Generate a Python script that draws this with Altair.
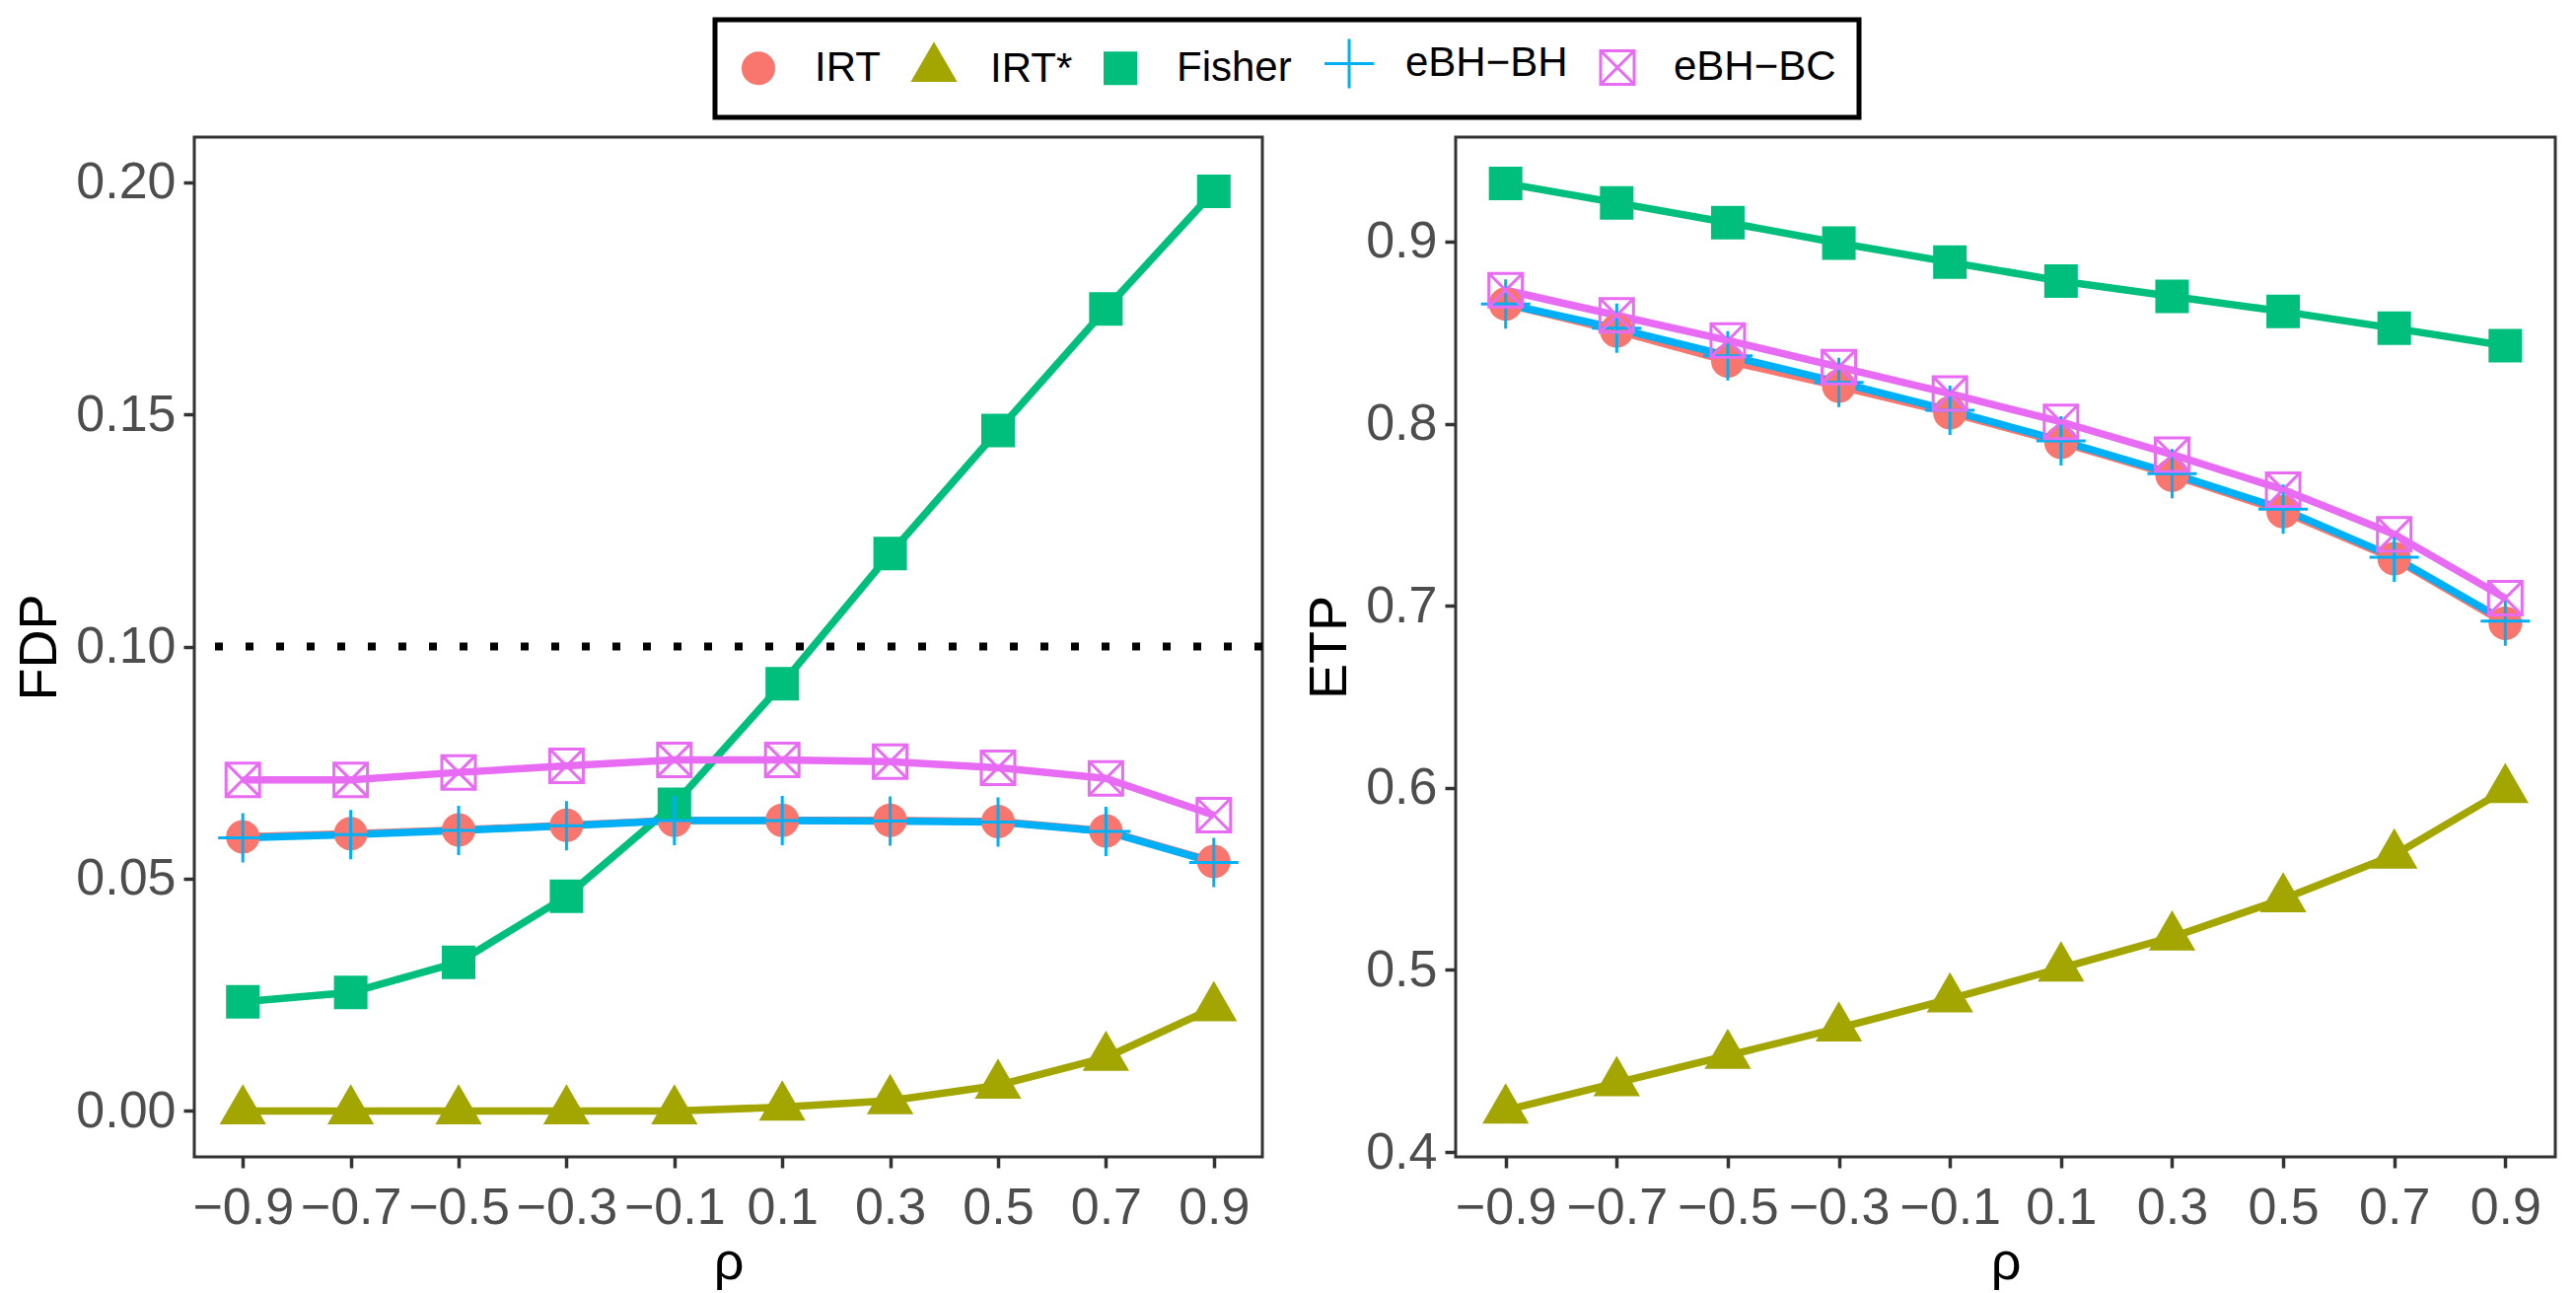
import altair as alt
import pandas as pd

rho = [-0.9, -0.7, -0.5, -0.3, -0.1, 0.1, 0.3, 0.5, 0.7, 0.9]
series = ["IRT", "IRT*", "Fisher", "eBH-BH", "eBH-BC"]
colors = ["#F8766D", "#A3A500", "#00BF7D", "#00B0F6", "#E76BF3"]

# FDP panel
fdp_irt = [0.0590, 0.0597, 0.0605, 0.0615, 0.0626, 0.0626, 0.0626, 0.0623, 0.0603, 0.0537]
fdp_irt_star = [0.0, 0.0, 0.0, 0.0, 0.0, 0.0008, 0.0022, 0.0055, 0.0115, 0.0222]
fdp_fisher = [0.0235, 0.0255, 0.0320, 0.0462, 0.0660, 0.0920, 0.1200, 0.1465, 0.1727, 0.1980]
fdp_ebh_bh = [0.0588, 0.0595, 0.0604, 0.0614, 0.0625, 0.0625, 0.0624, 0.0622, 0.0602, 0.0535]
fdp_ebh_bc = [0.0713, 0.0713, 0.0729, 0.0743, 0.0756, 0.0756, 0.0752, 0.0739, 0.0716, 0.0637]

# ETP panel
etp_irt = [0.8657, 0.8510, 0.8344, 0.8206, 0.8060, 0.7897, 0.7718, 0.7517, 0.7258, 0.6903]
etp_irt_star = [0.423, 0.438, 0.453, 0.468, 0.484, 0.501, 0.518, 0.539, 0.563, 0.599]
etp_fisher = [0.9320, 0.9213, 0.9104, 0.8992, 0.8887, 0.8783, 0.8699, 0.8616, 0.8524, 0.8428]
etp_ebh_bh = [0.8657, 0.8524, 0.8373, 0.8227, 0.8073, 0.7906, 0.7726, 0.7530, 0.7267, 0.6916]
etp_ebh_bc = [0.8733, 0.8595, 0.8457, 0.8311, 0.8165, 0.8010, 0.7830, 0.7638, 0.7392, 0.7041]

fdp_target = [0.1]
fdp_ticks = [0.0, 0.05, 0.10, 0.15, 0.20]
etp_ticks = [0.4, 0.5, 0.6, 0.7, 0.8, 0.9]


def long(values):
    rows = []
    for s, vals in zip(series, values):
        for r, v in zip(rho, vals):
            rows.append({"series": s, "line_series": s, "rho": r, "value": v,
                         "order": series.index(s)})
    return pd.DataFrame(rows)


fdp_df = long([fdp_irt, fdp_irt_star, fdp_fisher, fdp_ebh_bh, fdp_ebh_bc])
etp_df = long([etp_irt, etp_irt_star, etp_fisher, etp_ebh_bh, etp_ebh_bc])

FONT = "Liberation Sans"
shapes = [
    "circle",
    "M0,-1.565L1.355,0.782L-1.355,0.782Z",
    "square",
    "M-1.613,0L1.613,0M0,-1.613L0,1.613",
    "M-1.097,-1.097L1.097,-1.097L1.097,1.097L-1.097,1.097ZM-1.097,-1.097L1.097,1.097M1.097,-1.097L-1.097,1.097",
]
fills = [colors[0], colors[1], colors[2], "transparent", "transparent"]

color_scale = alt.Scale(domain=series, range=colors)
fill_scale = alt.Scale(domain=series, range=fills)
shape_scale = alt.Scale(domain=series, range=shapes)

legend = alt.Legend(
    orient="none", legendX=528, legendY=-119, direction="horizontal", title=None,
    labelFont=FONT, labelFontSize=42, labelColor="black", labelOffset=36,
    columnPadding=26, symbolSize=961, symbolStrokeWidth=3, labelLimit=500,
    labelExpr="replace(datum.label, '-', '\u2212')",
)

x_enc = alt.X(
    "rho:Q", title="\u03c1",
    scale=alt.Scale(domain=[-0.99, 0.99], nice=False, zero=False),
    axis=alt.Axis(values=rho, format=".1f", labelExpr="replace(datum.label, '-', '\u2212')",
                  labelOverlap=False, labelFlush=False, labelPadding=15, titlePadding=3),
)


def panel(df, title, domain, ticks, fmt, width, show_legend, target=None):
    y_enc = alt.Y(
        "value:Q", title=title,
        scale=alt.Scale(domain=domain, nice=False, zero=False),
        axis=alt.Axis(values=ticks, format=fmt, labelOverlap=False, labelPadding=8, titlePadding=9),
    )
    lines = alt.Chart(df).mark_line(strokeWidth=7.5, strokeJoin="round").encode(
        x=x_enc, y=y_enc,
        stroke=alt.Stroke("line_series:N", sort=series, scale=alt.Scale(range=colors), legend=None),
        detail="series:N",
    )
    lg = legend if show_legend else None
    points = alt.Chart(df).mark_point(filled=False, strokeWidth=3, opacity=1, size=961).encode(
        x=x_enc, y=y_enc,
        color=alt.Color("series:N", scale=color_scale, legend=lg),
        fill=alt.Fill("series:N", scale=fill_scale, legend=lg),
        shape=alt.Shape("series:N", scale=shape_scale, legend=lg),
        order=alt.Order("order:Q"),
    )
    layers = [lines]
    if target is not None:
        rule = alt.Chart(pd.DataFrame({"t": target})).mark_rule(
            color="black", strokeWidth=8, strokeDash=[8, 23], strokeCap="butt"
        ).encode(y=alt.Y("t:Q"))
        layers.append(rule)
    layers.append(points)
    return alt.layer(*layers).properties(width=width, height=1034)


left = panel(fdp_df, "FDP", [-0.0099, 0.2097], fdp_ticks, ".2f", 1083, True, target=fdp_target)
right = panel(etp_df, "ETP", [0.3973, 0.9574], etp_ticks, ".1f", 1115, False)

chart = alt.hconcat(left, right, spacing=34).properties(
    padding={"left": 4, "top": 9, "right": 0, "bottom": 0},
    background="white",
).configure_view(
    stroke="#333333", strokeWidth=3
).configure_axis(
    labelFont=FONT, labelFontSize=52, labelColor="#4D4D4D",
    titleFont=FONT, titleFontSize=54, titleColor="black", titleFontWeight="normal",
    tickSize=11, tickWidth=3.5, tickColor="#333333", domain=False, grid=False,
).configure_legend(
    strokeColor="black", strokeWidth=5, padding=23, cornerRadius=0,
)

chart.save("out.html", embed_options={"renderer": "svg", "actions": False})
